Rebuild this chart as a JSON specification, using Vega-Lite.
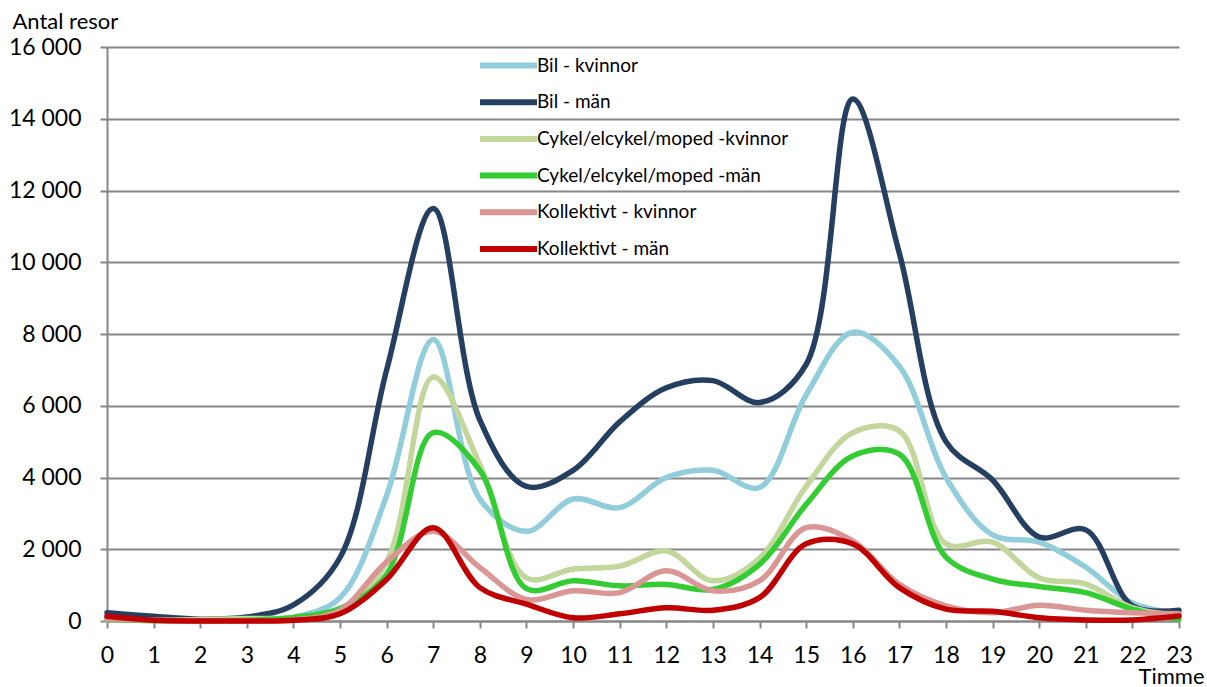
{
  "$schema": "https://vega.github.io/schema/vega-lite/v6.json",
  "width": 1072,
  "height": 574,
  "autosize": {"type": "none"},
  "padding": {"left": 107, "top": 47, "right": 28, "bottom": 66},
  "background": "white",
  "config": {"view": {"stroke": null}, "font": "Lato"},
  "data": {"values": [
    {"h":0,"s":"Bil - kvinnor","v":120},{"h":1,"s":"Bil - kvinnor","v":60},{"h":2,"s":"Bil - kvinnor","v":20},{"h":3,"s":"Bil - kvinnor","v":40},{"h":4,"s":"Bil - kvinnor","v":100},{"h":5,"s":"Bil - kvinnor","v":650},{"h":6,"s":"Bil - kvinnor","v":3500},{"h":7,"s":"Bil - kvinnor","v":7850},{"h":8,"s":"Bil - kvinnor","v":3400},{"h":9,"s":"Bil - kvinnor","v":2500},{"h":10,"s":"Bil - kvinnor","v":3400},{"h":11,"s":"Bil - kvinnor","v":3160},{"h":12,"s":"Bil - kvinnor","v":4000},{"h":13,"s":"Bil - kvinnor","v":4200},{"h":14,"s":"Bil - kvinnor","v":3720},{"h":15,"s":"Bil - kvinnor","v":6300},{"h":16,"s":"Bil - kvinnor","v":8050},{"h":17,"s":"Bil - kvinnor","v":7100},{"h":18,"s":"Bil - kvinnor","v":4000},{"h":19,"s":"Bil - kvinnor","v":2400},{"h":20,"s":"Bil - kvinnor","v":2200},{"h":21,"s":"Bil - kvinnor","v":1500},{"h":22,"s":"Bil - kvinnor","v":500},{"h":23,"s":"Bil - kvinnor","v":200},
    {"h":0,"s":"Bil - män","v":230},{"h":1,"s":"Bil - män","v":130},{"h":2,"s":"Bil - män","v":50},{"h":3,"s":"Bil - män","v":110},{"h":4,"s":"Bil - män","v":450},{"h":5,"s":"Bil - män","v":1770},{"h":6,"s":"Bil - män","v":7000},{"h":7,"s":"Bil - män","v":11500},{"h":8,"s":"Bil - män","v":5600},{"h":9,"s":"Bil - män","v":3750},{"h":10,"s":"Bil - män","v":4200},{"h":11,"s":"Bil - män","v":5550},{"h":12,"s":"Bil - män","v":6500},{"h":13,"s":"Bil - män","v":6700},{"h":14,"s":"Bil - män","v":6090},{"h":15,"s":"Bil - män","v":7150},{"h":16,"s":"Bil - män","v":14550},{"h":17,"s":"Bil - män","v":10250},{"h":18,"s":"Bil - män","v":5000},{"h":19,"s":"Bil - män","v":3930},{"h":20,"s":"Bil - män","v":2340},{"h":21,"s":"Bil - män","v":2540},{"h":22,"s":"Bil - män","v":420},{"h":23,"s":"Bil - män","v":300},
    {"h":0,"s":"Cykel/elcykel/moped -kvinnor","v":40},{"h":1,"s":"Cykel/elcykel/moped -kvinnor","v":20},{"h":2,"s":"Cykel/elcykel/moped -kvinnor","v":40},{"h":3,"s":"Cykel/elcykel/moped -kvinnor","v":70},{"h":4,"s":"Cykel/elcykel/moped -kvinnor","v":90},{"h":5,"s":"Cykel/elcykel/moped -kvinnor","v":300},{"h":6,"s":"Cykel/elcykel/moped -kvinnor","v":1650},{"h":7,"s":"Cykel/elcykel/moped -kvinnor","v":6800},{"h":8,"s":"Cykel/elcykel/moped -kvinnor","v":4350},{"h":9,"s":"Cykel/elcykel/moped -kvinnor","v":1200},{"h":10,"s":"Cykel/elcykel/moped -kvinnor","v":1450},{"h":11,"s":"Cykel/elcykel/moped -kvinnor","v":1530},{"h":12,"s":"Cykel/elcykel/moped -kvinnor","v":1950},{"h":13,"s":"Cykel/elcykel/moped -kvinnor","v":1120},{"h":14,"s":"Cykel/elcykel/moped -kvinnor","v":1750},{"h":15,"s":"Cykel/elcykel/moped -kvinnor","v":3750},{"h":16,"s":"Cykel/elcykel/moped -kvinnor","v":5250},{"h":17,"s":"Cykel/elcykel/moped -kvinnor","v":5300},{"h":18,"s":"Cykel/elcykel/moped -kvinnor","v":2150},{"h":19,"s":"Cykel/elcykel/moped -kvinnor","v":2200},{"h":20,"s":"Cykel/elcykel/moped -kvinnor","v":1200},{"h":21,"s":"Cykel/elcykel/moped -kvinnor","v":1030},{"h":22,"s":"Cykel/elcykel/moped -kvinnor","v":370},{"h":23,"s":"Cykel/elcykel/moped -kvinnor","v":150},
    {"h":0,"s":"Cykel/elcykel/moped -män","v":50},{"h":1,"s":"Cykel/elcykel/moped -män","v":10},{"h":2,"s":"Cykel/elcykel/moped -män","v":10},{"h":3,"s":"Cykel/elcykel/moped -män","v":20},{"h":4,"s":"Cykel/elcykel/moped -män","v":100},{"h":5,"s":"Cykel/elcykel/moped -män","v":350},{"h":6,"s":"Cykel/elcykel/moped -män","v":1300},{"h":7,"s":"Cykel/elcykel/moped -män","v":5250},{"h":8,"s":"Cykel/elcykel/moped -män","v":4200},{"h":9,"s":"Cykel/elcykel/moped -män","v":900},{"h":10,"s":"Cykel/elcykel/moped -män","v":1120},{"h":11,"s":"Cykel/elcykel/moped -män","v":980},{"h":12,"s":"Cykel/elcykel/moped -män","v":1020},{"h":13,"s":"Cykel/elcykel/moped -män","v":880},{"h":14,"s":"Cykel/elcykel/moped -män","v":1580},{"h":15,"s":"Cykel/elcykel/moped -män","v":3250},{"h":16,"s":"Cykel/elcykel/moped -män","v":4600},{"h":17,"s":"Cykel/elcykel/moped -män","v":4650},{"h":18,"s":"Cykel/elcykel/moped -män","v":1780},{"h":19,"s":"Cykel/elcykel/moped -män","v":1170},{"h":20,"s":"Cykel/elcykel/moped -män","v":960},{"h":21,"s":"Cykel/elcykel/moped -män","v":790},{"h":22,"s":"Cykel/elcykel/moped -män","v":330},{"h":23,"s":"Cykel/elcykel/moped -män","v":50},
    {"h":0,"s":"Kollektivt - kvinnor","v":60},{"h":1,"s":"Kollektivt - kvinnor","v":20},{"h":2,"s":"Kollektivt - kvinnor","v":10},{"h":3,"s":"Kollektivt - kvinnor","v":10},{"h":4,"s":"Kollektivt - kvinnor","v":30},{"h":5,"s":"Kollektivt - kvinnor","v":300},{"h":6,"s":"Kollektivt - kvinnor","v":1650},{"h":7,"s":"Kollektivt - kvinnor","v":2500},{"h":8,"s":"Kollektivt - kvinnor","v":1490},{"h":9,"s":"Kollektivt - kvinnor","v":600},{"h":10,"s":"Kollektivt - kvinnor","v":840},{"h":11,"s":"Kollektivt - kvinnor","v":790},{"h":12,"s":"Kollektivt - kvinnor","v":1400},{"h":13,"s":"Kollektivt - kvinnor","v":840},{"h":14,"s":"Kollektivt - kvinnor","v":1120},{"h":15,"s":"Kollektivt - kvinnor","v":2600},{"h":16,"s":"Kollektivt - kvinnor","v":2230},{"h":17,"s":"Kollektivt - kvinnor","v":1020},{"h":18,"s":"Kollektivt - kvinnor","v":420},{"h":19,"s":"Kollektivt - kvinnor","v":230},{"h":20,"s":"Kollektivt - kvinnor","v":440},{"h":21,"s":"Kollektivt - kvinnor","v":300},{"h":22,"s":"Kollektivt - kvinnor","v":230},{"h":23,"s":"Kollektivt - kvinnor","v":200},
    {"h":0,"s":"Kollektivt - män","v":130},{"h":1,"s":"Kollektivt - män","v":20},{"h":2,"s":"Kollektivt - män","v":0},{"h":3,"s":"Kollektivt - män","v":0},{"h":4,"s":"Kollektivt - män","v":20},{"h":5,"s":"Kollektivt - män","v":200},{"h":6,"s":"Kollektivt - män","v":1160},{"h":7,"s":"Kollektivt - män","v":2600},{"h":8,"s":"Kollektivt - män","v":930},{"h":9,"s":"Kollektivt - män","v":470},{"h":10,"s":"Kollektivt - män","v":90},{"h":11,"s":"Kollektivt - män","v":200},{"h":12,"s":"Kollektivt - män","v":370},{"h":13,"s":"Kollektivt - män","v":300},{"h":14,"s":"Kollektivt - män","v":650},{"h":15,"s":"Kollektivt - män","v":2150},{"h":16,"s":"Kollektivt - män","v":2150},{"h":17,"s":"Kollektivt - män","v":930},{"h":18,"s":"Kollektivt - män","v":330},{"h":19,"s":"Kollektivt - män","v":270},{"h":20,"s":"Kollektivt - män","v":90},{"h":21,"s":"Kollektivt - män","v":30},{"h":22,"s":"Kollektivt - män","v":30},{"h":23,"s":"Kollektivt - män","v":140}
  ]},
  "mark": {"type": "line", "interpolate": "catmull-rom", "strokeWidth": 5.5, "strokeCap": "round", "strokeJoin": "round"},
  "encoding": {
    "x": {
      "field": "h", "type": "quantitative",
      "scale": {"domain": [0, 23], "nice": false, "zero": false},
      "axis": {
        "values": [0,1,2,3,4,5,6,7,8,9,10,11,12,13,14,15,16,17,18,19,20,21,22,23],
        "format": "d", "grid": false,
        "domainColor": "#868686", "domainWidth": 2,
        "tickColor": "#868686", "tickWidth": 2, "tickSize": 7,
        "labelFontSize": 23, "labelColor": "black", "labelPadding": 16,
        "labelFlush": false, "labelOverlap": false,
        "title": "Timme", "titleFontSize": 22, "titleFontWeight": "normal", "titleColor": "black",
        "titleX": 1097, "titleY": 62, "titleAlign": "right", "titleBaseline": "alphabetic"
      }
    },
    "y": {
      "field": "v", "type": "quantitative",
      "scale": {"domain": [0, 16000], "nice": false},
      "axis": {
        "values": [0,2000,4000,6000,8000,10000,12000,14000,16000],
        "grid": true, "gridColor": "#868686", "gridWidth": 2,
        "domainColor": "#868686", "domainWidth": 2,
        "tickColor": "#868686", "tickWidth": 2, "tickSize": 7,
        "labelFontSize": 23, "labelColor": "black", "labelPadding": 19,
        "labelFlush": false, "labelOverlap": false,
        "labelExpr": "replace(format(datum.value, ','), ',', ' ')",
        "title": "Antal resor", "titleAngle": 0, "titleFontSize": 22, "titleFontWeight": "normal", "titleColor": "black",
        "titleX": -95, "titleY": -26, "titleAlign": "left", "titleBaseline": "middle"
      }
    },
    "color": {
      "field": "s", "type": "nominal",
      "scale": {
        "domain": ["Bil - kvinnor", "Bil - män", "Cykel/elcykel/moped -kvinnor", "Cykel/elcykel/moped -män", "Kollektivt - kvinnor", "Kollektivt - män"],
        "range": ["#92cddc", "#243f60", "#c3d69b", "#33cc33", "#d99694", "#c00000"]
      },
      "legend": {
        "title": null, "orient": "none", "legendX": 370, "legendY": 1,
        "symbolType": "M-2,0H2", "symbolSize": 812, "symbolStrokeWidth": 6, "symbolOffset": 14,
        "labelFontSize": 19, "labelColor": "black", "labelOffset": 11,
        "rowPadding": 6.7, "padding": 0, "labelLimit": 400
      }
    }
  }
}
